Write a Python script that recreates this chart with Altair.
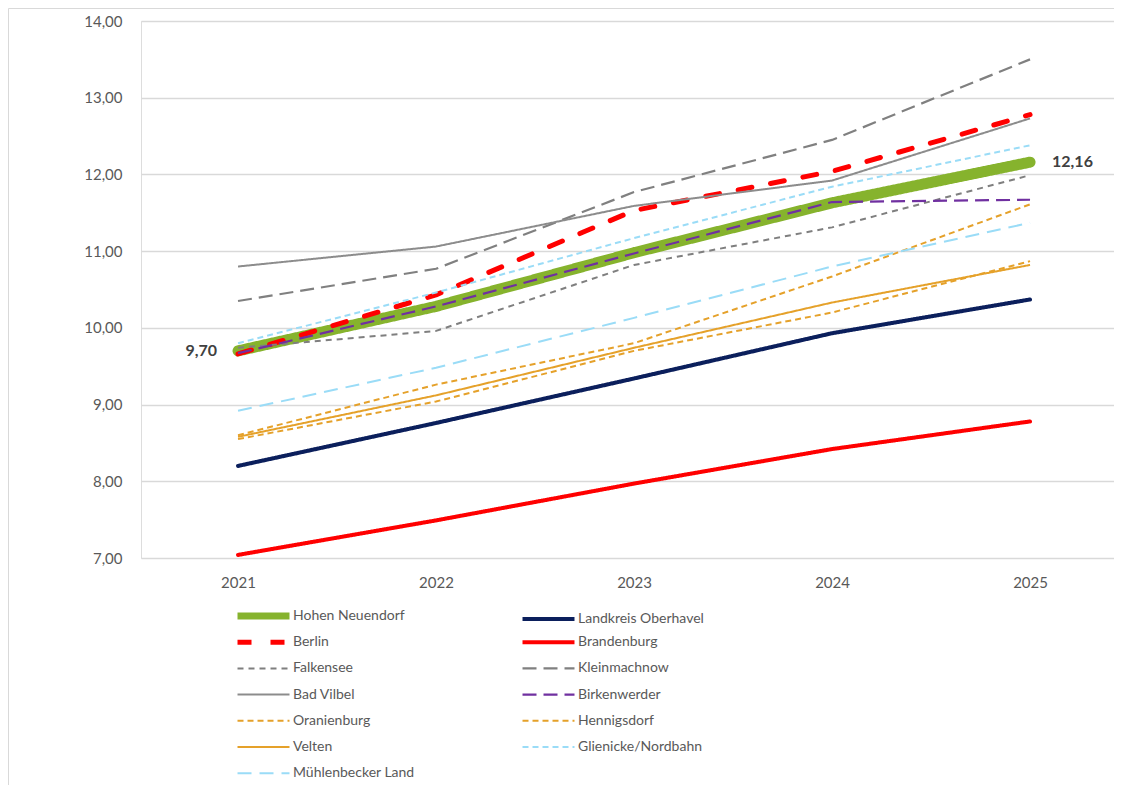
import altair as alt
import pandas as pd

years = [2021, 2022, 2023, 2024, 2025]

series = [
    "Hohen Neuendorf", "Landkreis Oberhavel", "Berlin", "Brandenburg",
    "Falkensee", "Kleinmachnow", "Bad Vilbel", "Birkenwerder",
    "Oranienburg", "Hennigsdorf", "Velten", "Glienicke/Nordbahn",
    "Mühlenbecker Land",
]

hohen_neuendorf = [9.70, 10.28, 10.98, 11.63, 12.16]
landkreis_oberhavel = [8.20, 8.76, 9.34, 9.93, 10.37]
berlin = [9.66, 10.43, 11.53, 12.04, 12.78]
brandenburg = [7.04, 7.49, 7.97, 8.42, 8.78]
falkensee = [9.74, 9.96, 10.82, 11.31, 11.99]
kleinmachnow = [10.35, 10.77, 11.77, 12.45, 13.50]
bad_vilbel = [10.80, 11.06, 11.59, 11.92, 12.73]
birkenwerder = [9.67, 10.28, 10.97, 11.64, 11.67]
oranienburg = [8.60, 9.26, 9.80, 10.67, 11.61]
hennigsdorf = [8.55, 9.04, 9.70, 10.20, 10.87]
velten = [8.58, 9.12, 9.74, 10.33, 10.82]
glienicke = [9.80, 10.46, 11.17, 11.84, 12.38]
muehlenbecker = [8.92, 9.48, 10.13, 10.80, 11.37]

values = [
    hohen_neuendorf, landkreis_oberhavel, berlin, brandenburg,
    falkensee, kleinmachnow, bad_vilbel, birkenwerder,
    oranienburg, hennigsdorf, velten, glienicke, muehlenbecker,
]

colors = [
    "#86B32D", "#0B1F5C", "#FF0000", "#FF0000",
    "#7F7F7F", "#808080", "#8C8C8C", "#7030A0",
    "#E5A12A", "#E5A12A", "#E5A12A", "#9ADCF7",
    "#9ADCF7",
]
dashes = [
    [1, 0], [1, 0], [14, 19], [1, 0],
    [6, 5], [14, 7], [1, 0], [14, 7],
    [6, 4], [6, 4], [1, 0], [6, 4],
    [14, 8],
]
# line widths in the legend; the main series line is drawn thicker in the plot
legend_widths = [7, 4, 5, 4, 2, 2.2, 2, 2.2, 2, 2, 2, 2, 2]
main_line_width = 11
caps = ["round", "round", "round", "round"] + ["butt"] * 9

rows = []
for name, vals in zip(series, values):
    for yr, v in zip(years, vals):
        rows.append({"Jahr": yr, "Wert": v, "Serie": name})
df = pd.DataFrame(rows)

FONT = "Lato"
GREY = "#595959"

legend = alt.Legend(
    title=None, orient="none", legendX=115.5, legendY=588, columns=2,
    direction="horizontal", gridAlign="all",
    symbolType="M-17.33,0H17.33", symbolSize=9, labelFontSize=14, labelFont=FONT,
    labelColor=GREY, labelOffset=22.5, rowPadding=2.2, columnPadding=95,
    symbolLimit=0,
)

x_enc = alt.X(
    "Jahr:Q",
    scale=alt.Scale(domain=[2020.51, 2025.424], nice=False, zero=False),
    axis=alt.Axis(values=years, format="d", title=None, grid=False, domain=False,
                  ticks=False, labelPadding=17, labelFontSize=15, labelFont=FONT,
                  labelColor=GREY),
)
y_enc = alt.Y(
    "Wert:Q",
    scale=alt.Scale(domain=[7, 14], nice=False, zero=False),
    axis=alt.Axis(values=list(range(7, 15)), title=None, domain=False, ticks=False,
                  labelExpr="replace(format(datum.value, '.2f'), '.', ',')",
                  labelPadding=19, labelFontSize=15, labelFont=FONT, labelColor=GREY,
                  gridColor="#D9D9D9", gridWidth=1.3),
)
color_enc = alt.Color("Serie:N", scale=alt.Scale(domain=series, range=colors), legend=legend)
dash_enc = alt.StrokeDash("Serie:N", scale=alt.Scale(domain=series, range=dashes), legend=legend)
width_enc = alt.StrokeWidth("Serie:N", scale=alt.Scale(type="ordinal", domain=series, range=legend_widths), legend=legend)

layers = []
for i, (name, cap) in enumerate(zip(series, caps)):
    base = alt.Chart(df).transform_filter(alt.datum.Serie == name)
    if i == 0:
        layer = base.mark_line(strokeCap=cap, strokeJoin="round", strokeWidth=main_line_width).encode(
            x=x_enc, y=y_enc, color=color_enc, strokeDash=dash_enc)
    else:
        layer = base.mark_line(strokeCap=cap, strokeJoin="round").encode(
            x=x_enc, y=y_enc, color=color_enc, strokeDash=dash_enc, strokeWidth=width_enc)
    layers.append(layer)

hn = pd.DataFrame({"Jahr": years, "Wert": hohen_neuendorf})
label_base = alt.Chart(hn).transform_calculate(
    txt="replace(format(datum.Wert, '.2f'), '.', ',')"
)
first_label = label_base.transform_filter(alt.datum.Jahr == years[0]).mark_text(
    align="right", baseline="middle", dx=-21, fontSize=16, fontWeight="bold",
    font=FONT, color="#404040"
).encode(x="Jahr:Q", y="Wert:Q", text="txt:N")
last_label = label_base.transform_filter(alt.datum.Jahr == years[-1]).mark_text(
    align="left", baseline="middle", dx=22, fontSize=16, fontWeight="bold",
    font=FONT, color="#404040"
).encode(x="Jahr:Q", y="Wert:Q", text="txt:N")

frame_src = alt.Chart(pd.DataFrame({"k": [0]}))
frame_left = frame_src.mark_rule(color="#D9D9D9", strokeWidth=1).encode(
    x=alt.value(-132.5), y=alt.value(-12.5), y2=alt.value(780)
)
frame_top = frame_src.mark_rule(color="#D9D9D9", strokeWidth=1).encode(
    x=alt.value(-132.5), x2=alt.value(990), y=alt.value(-12.5)
)

chart = alt.layer(frame_left, frame_top, *layers, first_label, last_label).properties(
    width=973, height=537,
    padding={"left": 133, "top": 13, "right": 0, "bottom": 227},
    autosize=alt.AutoSizeParams(type="none"),
).configure_view(stroke=None).configure(background="white")

chart.save("out.html", embed_options={"renderer": "svg", "actions": False})
